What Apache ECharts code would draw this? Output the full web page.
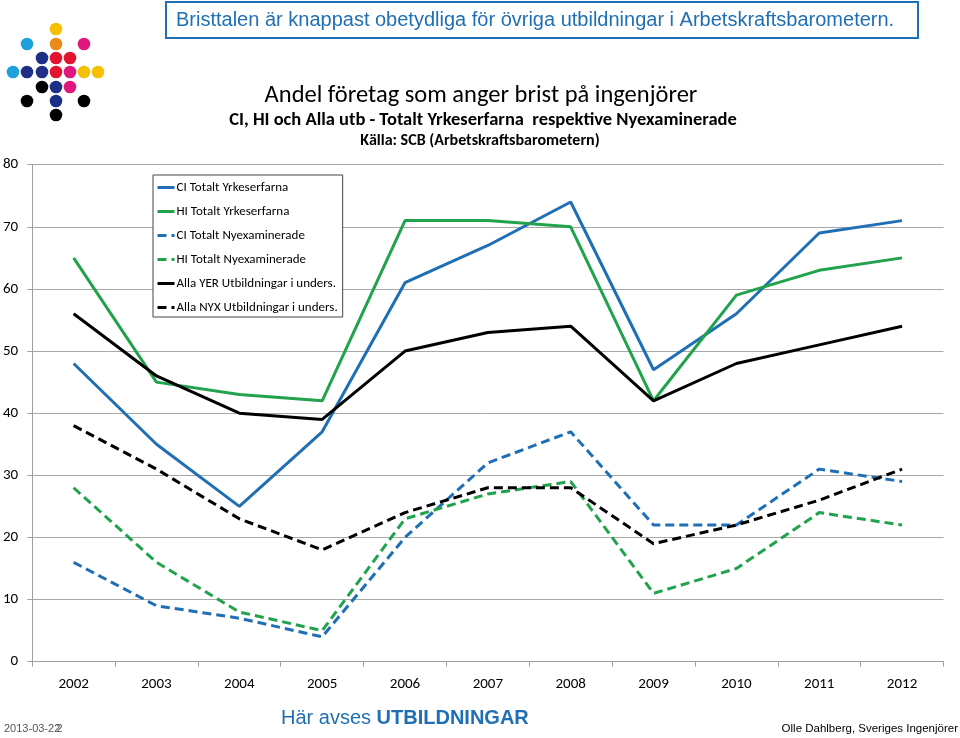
<!DOCTYPE html>
<html>
<head>
<meta charset="utf-8">
<script src="https://cdn.jsdelivr.net/npm/echarts@6/dist/echarts.min.js"></script>
<style>html,body{margin:0;padding:0;background:#fff;}#c{width:960px;height:738px;}</style>
</head>
<body>
<div id="c"></div>
<script>
const years = ['2002','2003','2004','2005','2006','2007','2008','2009','2010','2011','2012'];
const ciYrke = [48, 35, 25, 37, 61, 67, 74, 47, 56, 69, 71];
const hiYrke = [65, 45, 43, 42, 71, 71, 70, 42, 59, 63, 65];
const ciNyex = [16, 9, 7, 4, 20, 32, 37, 22, 22, 31, 29];
const hiNyex = [28, 16, 8, 5, 23, 27, 29, 11, 15, 24, 22];
const allaYer = [56, 46, 40, 39, 50, 53, 54, 42, 48, 51, 54];
const allaNyx = [38, 31, 23, 18, 24, 28, 28, 19, 22, 26, 31];
const seriesNames = ['CI Totalt Yrkeserfarna','HI Totalt Yrkeserfarna','CI Totalt Nyexaminerade','HI Totalt Nyexaminerade','Alla YER Utbildningar i unders.','Alla NYX Utbildningar i unders.'];

const BLUE = '#1f6fb4', GREEN = '#21a24c', BLACK = '#000000';
const CAL = 'Carlito, Lato, sans-serif';
const ARIAL = '"Liberation Sans", Arial, sans-serif';
const DASH = [9, 5];

// logo dots (decoration)
const dots = [
  [56,29,'#f5c000'],
  [27,44,'#1ea0dc'],[56,44,'#ec8a17'],[84,44,'#e0177d'],
  [42,58,'#1d2f86'],[56,58,'#e2142e'],[70,58,'#e2142e'],
  [13,72,'#1ea0dc'],[27,72,'#1d2f86'],[42,72,'#1d2f86'],[56,72,'#e2142e'],[70,72,'#e0177d'],[84,72,'#f5c000'],[98,72,'#f5c000'],
  [42,87,'#000'],[56,87,'#1d2f86'],[70,87,'#e0177d'],
  [27,101,'#000'],[56,101,'#1d2f86'],[84,101,'#000'],
  [56,115,'#000']
];
const graphics = dots.map(d => ({type:'circle', shape:{cx:d[0], cy:d[1], r:6.3}, style:{fill:d[2]}, silent:true}));
graphics.push(
  {type:'rect', shape:{x:166, y:2, width:752, height:36}, style:{fill:'#fff', stroke:'#1f6fb4', lineWidth:2}},
  {type:'text', x:176, y:20, style:{text:'Bristtalen är knappast obetydliga för övriga utbildningar i Arbetskraftsbarometern.', font:'20px '+ARIAL, fill:'#1f6fb4', textVerticalAlign:'middle'}},
  {type:'text', x:481, y:95.5, style:{text:'Andel företag som anger brist på ingenjörer', font:'500 24.5px '+CAL, fill:'#000', textAlign:'center', textVerticalAlign:'middle'}},
  {type:'text', x:483, y:120, style:{text:'CI, HI och Alla utb - Totalt Yrkeserfarna  respektive Nyexaminerade', font:'bold 18.5px '+CAL, fill:'#000', textAlign:'center', textVerticalAlign:'middle'}},
  {type:'text', x:480, y:141, style:{text:'Källa: SCB (Arbetskraftsbarometern)', font:'bold 16px '+CAL, fill:'#000', textAlign:'center', textVerticalAlign:'middle'}},
  {type:'text', x:4, y:729, style:{text:'2013-03-22', font:'11px '+ARIAL, fill:'#555', textVerticalAlign:'middle'}},
  {type:'text', x:56.5, y:729, style:{text:'2', font:'11px '+ARIAL, fill:'#555', textVerticalAlign:'middle'}},
  {type:'text', x:281, y:718, style:{rich:{a:{font:'20px '+ARIAL, fill:'#1f6fb4'}, b:{font:'bold 20px '+ARIAL, fill:'#1f6fb4'}}, text:'{a|Här avses }{b|UTBILDNINGAR}', textVerticalAlign:'middle'}},
  {type:'text', x:958, y:729, style:{text:'Olle Dahlberg, Sveriges Ingenjörer', font:'11.5px '+ARIAL, fill:'#000', textAlign:'right', textVerticalAlign:'middle'}}
);

function mk(name, data, color, dashed){
  return {name, type:'line', data, symbol:'none', smooth:false, animation:false,
    lineStyle:{color, width:3, type: dashed ? DASH : 'solid'}, itemStyle:{color}, z: 3};
}

const chart = echarts.init(document.getElementById('c'), null, {renderer:'canvas'});
chart.setOption({
  animation:false,
  backgroundColor:'#fff',
  grid:{left:32, right:16.5, top:164.7, bottom:76.3, containLabel:false},
  legend:{
    orient:'vertical', left:153, top:175, data:seriesNames,
    backgroundColor:'#fff', borderColor:'#444', borderWidth:1, borderRadius:0,
    padding:[6,5,3,3], itemWidth:17, itemHeight:14, itemGap:11,
    itemStyle:{opacity:0},
    lineStyle:{width:3},
    textStyle:{fontFamily:CAL, fontSize:13, color:'#000', padding:[0,0,0,-3]},
    selectedMode:false, z:10
  },
  xAxis:{
    type:'category', data:years, boundaryGap:true,
    axisLine:{lineStyle:{color:'#a0a0a0', width:1}},
    axisTick:{show:true, length:5, lineStyle:{color:'#a0a0a0'}},
    axisLabel:{color:'#000', fontFamily:CAL, fontSize:15, margin:15}
  },
  yAxis:{
    type:'value', min:0, max:80, interval:10,
    axisLine:{show:true, lineStyle:{color:'#a0a0a0'}},
    axisTick:{show:true, length:5, lineStyle:{color:'#a0a0a0'}},
    splitLine:{lineStyle:{color:'#a8a8a8', width:1}},
    axisLabel:{color:'#000', fontFamily:CAL, fontSize:15, margin:14}
  },
  series:[
    mk(seriesNames[0], ciYrke, BLUE, false),
    mk(seriesNames[1], hiYrke, GREEN, false),
    mk(seriesNames[2], ciNyex, BLUE, true),
    mk(seriesNames[3], hiNyex, GREEN, true),
    mk(seriesNames[4], allaYer, BLACK, false),
    mk(seriesNames[5], allaNyx, BLACK, true)
  ],
  graphic: graphics
});
</script>
</body>
</html>
